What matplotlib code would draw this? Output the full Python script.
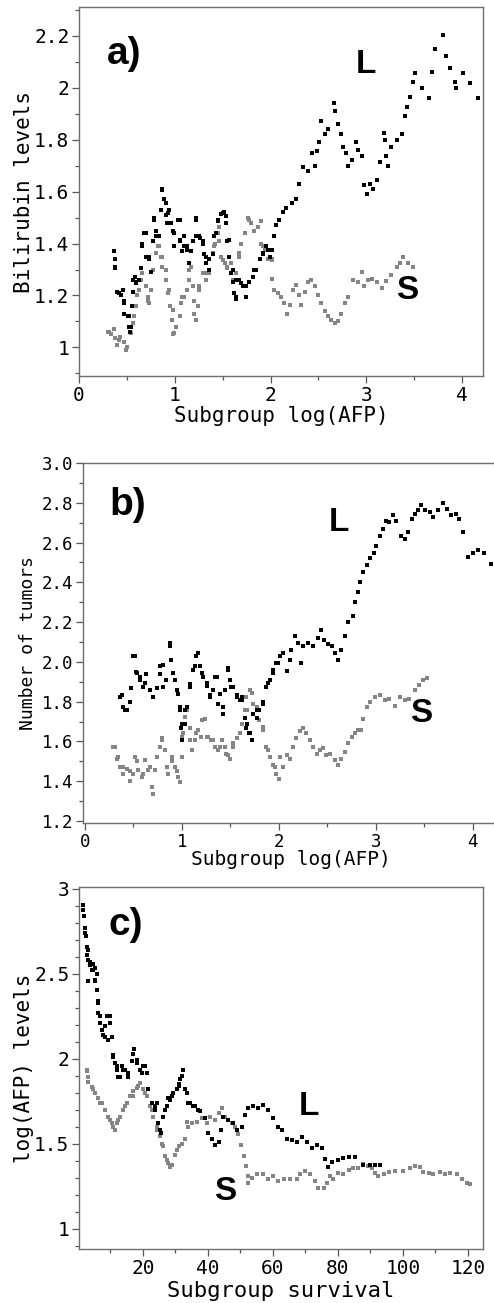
import matplotlib
matplotlib.use("Agg")
import matplotlib.pyplot as plt
from matplotlib.ticker import MultipleLocator, FixedLocator

# ---- panel a: bilirubin vs subgroup log(AFP) ----
a_L_x = [0.37, 0.38, 0.38, 0.40, 0.44, 0.46, 0.47, 0.47, 0.51, 0.52, 0.53, 0.55, 0.56, 0.58, 0.59,
         0.63, 0.65, 0.66, 0.68, 0.70, 0.73, 0.75, 0.77, 0.785, 0.80, 0.84, 0.855, 0.87, 0.89, 0.91,
         0.92, 0.94, 0.98, 0.995, 1.03, 1.05, 1.08, 1.10, 1.13, 1.15, 1.17, 1.19, 1.22, 1.22, 1.26,
         1.29, 1.31, 1.33, 1.36, 1.40, 1.43, 1.45, 1.48, 1.51, 1.535, 1.55, 1.57, 1.59, 1.605, 1.62,
         1.64, 1.675, 1.71, 1.745, 1.78, 1.815, 1.85, 1.885, 1.92, 1.955, 1.99, 2.01, 2.04, 2.06,
         2.09, 2.13, 2.16, 2.22, 2.27, 2.30, 2.34, 2.39, 2.43, 2.46, 2.48, 2.51, 2.53, 2.57, 2.60,
         2.66, 2.67, 2.70, 2.74, 2.76, 2.79, 2.81, 2.85, 2.89, 2.91, 2.95, 2.98, 3.01, 3.04, 3.07,
         3.11, 3.14, 3.18, 3.19, 3.21, 3.23, 3.26, 3.32, 3.37, 3.40, 3.43, 3.46, 3.49, 3.51, 3.58,
         3.65, 3.69, 3.72, 3.80, 3.83, 3.87, 3.93, 3.94, 4.01, 4.08, 4.17,
         0.87, 0.91, 0.925, 0.96, 0.995, 1.05, 1.05, 1.10, 1.13, 1.22, 1.257, 1.29, 1.327, 1.36,
         1.41, 1.45, 1.50, 1.536, 1.57, 1.605, 1.64, 1.64, 1.69, 1.745, 1.745, 1.83, 1.92, 1.97,
         0.70, 0.733, 0.66, 0.785, 0.80, 0.56, 0.59, 0.42, 0.47, 0.52, 0.54, 0.38]
a_L_y = [1.37, 1.34, 1.305, 1.215, 1.20, 1.22, 1.18, 1.13, 1.12, 1.08, 1.06, 1.16, 1.215, 1.27, 1.25,
         1.26, 1.305, 1.39, 1.44, 1.35, 1.34, 1.29, 1.41, 1.50, 1.45, 1.43, 1.53, 1.61, 1.57, 1.51,
         1.48, 1.53, 1.45, 1.39, 1.49, 1.41, 1.37, 1.43, 1.39, 1.325, 1.37, 1.41, 1.43, 1.50, 1.42,
         1.40, 1.36, 1.325, 1.34, 1.36, 1.44, 1.485, 1.515, 1.52, 1.48, 1.41, 1.35, 1.285, 1.25, 1.21,
         1.185, 1.26, 1.235, 1.195, 1.25, 1.27, 1.30, 1.34, 1.36, 1.39, 1.35, 1.375, 1.43, 1.47,
         1.49, 1.52, 1.535, 1.555, 1.57, 1.63, 1.695, 1.68, 1.75, 1.70, 1.755, 1.79, 1.87, 1.82, 1.84,
         1.94, 1.91, 1.86, 1.82, 1.77, 1.75, 1.70, 1.72, 1.79, 1.76, 1.735, 1.625, 1.59, 1.63, 1.61,
         1.645, 1.715, 1.825, 1.80, 1.735, 1.70, 1.77, 1.80, 1.82, 1.89, 1.925, 1.965, 2.02, 2.055, 2.0,
         1.96, 2.06, 2.15, 2.203, 2.12, 2.075, 2.02, 2.0, 2.055, 2.017, 1.96,
         1.607, 1.555, 1.517, 1.48, 1.44, 1.49, 1.414, 1.39, 1.376, 1.49, 1.427, 1.41, 1.35, 1.30,
         1.427, 1.49, 1.517, 1.504, 1.414, 1.30, 1.26, 1.196, 1.248, 1.235, 1.196, 1.30, 1.363, 1.376,
         1.44, 1.35, 1.40, 1.49, 1.427, 1.26, 1.248, 1.21, 1.17, 1.12, 1.08, 1.31]

a_S_x = [0.30, 0.33, 0.37, 0.38, 0.40, 0.43, 0.47, 0.49, 0.50, 0.54, 0.56, 0.575, 0.59, 0.61, 0.63,
         0.645, 0.66, 0.70, 0.715, 0.75, 0.77, 0.80, 0.83, 0.855, 0.87, 0.91, 0.925, 0.95, 0.97,
         0.985, 1.01, 1.05, 1.065, 1.10, 1.13, 1.15, 1.17, 1.19, 1.205, 1.22, 1.24, 1.255, 1.29,
         1.325, 1.36, 1.395, 1.415, 1.45, 1.465, 1.48, 1.52, 1.55, 1.59, 1.605, 1.64, 1.675, 1.69,
         1.73, 1.76, 1.80, 1.83, 1.865, 1.90, 1.90, 1.94, 1.97, 2.01, 2.02, 2.04, 2.08, 2.11, 2.145,
         2.17, 2.20, 2.235, 2.27, 2.30, 2.32, 2.355, 2.39, 2.425, 2.46, 2.495, 2.53, 2.565, 2.60,
         2.635, 2.67, 2.70, 2.74, 2.775, 2.81, 2.86, 2.91, 2.95, 2.98, 3.02, 3.055, 3.11, 3.16,
         3.21, 3.26, 3.32, 3.35, 3.385, 3.44, 3.49,
         0.314, 0.42, 0.49, 0.576, 0.646, 0.716, 0.733, 0.82, 0.87, 0.91, 0.94, 0.98, 0.995, 1.05,
         1.08, 1.15, 1.20, 1.257, 1.327, 1.41, 1.466, 1.50, 1.55, 1.605, 1.675, 1.73, 1.78, 1.867,
         1.92, 2.02]
a_S_y = [1.06, 1.05, 1.07, 1.035, 1.01, 1.04, 1.02, 0.99, 1.00, 1.055, 1.095, 1.12, 1.16, 1.20, 1.22,
         1.26, 1.285, 1.235, 1.18, 1.22, 1.30, 1.365, 1.39, 1.35, 1.31, 1.26, 1.21, 1.16, 1.105,
         1.05, 1.08, 1.12, 1.17, 1.195, 1.22, 1.26, 1.31, 1.235, 1.18, 1.105, 1.16, 1.22, 1.285,
         1.26, 1.285, 1.365, 1.40, 1.44, 1.41, 1.35, 1.325, 1.305, 1.325, 1.26, 1.285, 1.35, 1.40,
         1.44, 1.50, 1.48, 1.45, 1.465, 1.485, 1.40, 1.375, 1.34, 1.34, 1.265, 1.22, 1.21, 1.195, 1.17,
         1.13, 1.165, 1.22, 1.24, 1.20, 1.165, 1.215, 1.25, 1.26, 1.235, 1.20, 1.17, 1.14, 1.12,
         1.105, 1.095, 1.10, 1.13, 1.17, 1.195, 1.26, 1.25, 1.29, 1.235, 1.26, 1.265, 1.25, 1.23,
         1.255, 1.28, 1.31, 1.325, 1.35, 1.325, 1.31,
         1.06, 1.03, 0.99, 1.12, 1.26, 1.196, 1.17, 1.39, 1.35, 1.30, 1.22, 1.145, 1.055, 1.12,
         1.196, 1.30, 1.13, 1.235, 1.286, 1.39, 1.465, 1.337, 1.31, 1.26, 1.363, 1.44, 1.49, 1.465,
         1.39, 1.337]

# ---- panel b: number of tumors vs subgroup log(AFP) ----
b_L_x = [0.38, 0.395, 0.43, 0.46, 0.48, 0.515, 0.53, 0.57, 0.60, 0.635, 0.67, 0.70, 0.74, 0.77, 0.81,
         0.84, 0.875, 0.89, 0.93, 0.96, 0.98, 0.99, 1.005, 1.03, 1.055, 1.08, 1.115, 1.15, 1.185,
         1.22, 1.255, 1.29, 1.32, 1.36, 1.39, 1.42, 1.44, 1.48, 1.495, 1.53, 1.565, 1.60, 1.625,
         1.65, 1.665, 1.695, 1.72, 1.735, 1.77, 1.80, 1.84, 1.87, 1.91, 1.94, 1.975, 2.01, 2.045,
         2.08, 2.11, 2.13, 2.165, 2.20, 2.23, 2.25, 2.30, 2.355, 2.405, 2.44, 2.47, 2.51, 2.545,
         2.58, 2.61, 2.645, 2.68, 2.715, 2.77, 2.79, 2.82, 2.84, 2.87, 2.905, 2.94, 2.98, 3.005,
         3.04, 3.075, 3.11, 3.14, 3.18, 3.21, 3.265, 3.30, 3.33, 3.37, 3.40, 3.44, 3.47, 3.505,
         3.56, 3.59, 3.64, 3.69, 3.73, 3.78, 3.83, 3.86, 3.90, 3.95, 4.00, 4.055, 4.12, 4.19,
         0.36, 0.41, 0.50, 0.533, 0.567, 0.62, 0.67, 0.704, 0.773, 0.807, 0.876, 0.91, 0.945, 0.98,
         0.997, 1.03, 1.08, 1.134, 1.168, 1.203, 1.255, 1.29, 1.34, 1.375, 1.426, 1.477, 1.51,
         1.564, 1.615, 1.667, 1.70, 1.72, 1.77, 1.84, 1.89, 1.94, 1.99, 2.044]
b_L_y = [1.834, 1.775, 1.76, 1.80, 1.87, 2.03, 1.95, 1.925, 1.875, 1.94, 1.86, 1.825, 1.87, 1.94, 1.985,
         1.91, 2.08, 2.01, 1.91, 1.84, 1.775, 1.67, 1.605, 1.69, 1.775, 1.89, 1.96, 2.03, 1.98,
         1.925, 1.88, 1.835, 1.86, 1.925, 1.84, 1.775, 1.86, 1.97, 1.91, 1.875, 1.835, 1.81, 1.825,
         1.72, 1.67, 1.64, 1.605, 1.74, 1.72, 1.76, 1.80, 1.875, 1.91, 1.96, 1.995, 2.03, 2.045,
         1.955, 2.01, 2.06, 2.13, 2.095, 1.995, 2.08, 2.095, 2.08, 2.12, 2.16, 2.11, 2.09, 2.08,
         2.045, 2.01, 2.06, 2.13, 2.20, 2.23, 2.30, 2.35, 2.40, 2.45, 2.485, 2.52, 2.545, 2.585,
         2.635, 2.67, 2.71, 2.705, 2.74, 2.71, 2.635, 2.62, 2.655, 2.72, 2.745, 2.765, 2.79, 2.765,
         2.755, 2.73, 2.765, 2.80, 2.77, 2.74, 2.745, 2.72, 2.655, 2.525, 2.545, 2.56, 2.545, 2.49,
         1.825, 1.757, 2.03, 1.944, 1.91, 1.893, 1.86, 1.825, 1.977, 1.876, 2.096, 1.944, 1.86, 1.757,
         1.69, 1.757, 1.876, 1.977, 2.045, 1.944, 1.893, 1.825, 1.926, 1.79, 1.74, 1.96, 1.876,
         1.825, 1.81, 1.69, 1.64, 1.605, 1.757, 1.79, 1.893, 1.944, 1.994, 2.045]

b_S_x = [0.29, 0.33, 0.36, 0.395, 0.43, 0.46, 0.50, 0.515, 0.55, 0.585, 0.62, 0.65, 0.69, 0.70,
         0.72, 0.74, 0.77, 0.80, 0.825, 0.86, 0.895, 0.93, 0.96, 0.98, 1.00, 1.01, 1.03, 1.055,
         1.08, 1.10, 1.135, 1.17, 1.20, 1.24, 1.27, 1.305, 1.34, 1.375, 1.41, 1.44, 1.48, 1.50,
         1.53, 1.565, 1.60, 1.625, 1.65, 1.665, 1.70, 1.735, 1.77, 1.80, 1.84, 1.87, 1.91, 1.94,
         1.975, 2.00, 2.04, 2.08, 2.11, 2.15, 2.18, 2.215, 2.25, 2.285, 2.32, 2.355, 2.39, 2.42,
         2.455, 2.49, 2.525, 2.58, 2.61, 2.645, 2.68, 2.715, 2.75, 2.785, 2.82, 2.85, 2.87, 2.905,
         2.94, 2.99, 3.04, 3.09, 3.14, 3.20, 3.25, 3.30, 3.34, 3.40, 3.45, 3.49, 3.53,
         0.31, 0.343, 0.395, 0.464, 0.533, 0.60, 0.67, 0.74, 0.79, 0.842, 0.894, 0.945, 0.997, 1.03,
         1.08, 1.15, 1.203, 1.255, 1.32, 1.39, 1.46, 1.53, 1.60, 1.667, 1.72, 1.77, 1.84, 1.89,
         1.96, 2.01]
b_S_y = [1.57, 1.51, 1.47, 1.435, 1.46, 1.40, 1.435, 1.52, 1.455, 1.42, 1.505, 1.455, 1.37, 1.335,
         1.455, 1.52, 1.57, 1.615, 1.555, 1.435, 1.52, 1.47, 1.42, 1.395, 1.52, 1.64, 1.725, 1.76,
         1.67, 1.555, 1.605, 1.655, 1.62, 1.715, 1.62, 1.605, 1.57, 1.555, 1.605, 1.57, 1.53, 1.51,
         1.57, 1.615, 1.64, 1.69, 1.76, 1.825, 1.86, 1.79, 1.76, 1.71, 1.655, 1.57, 1.52, 1.48,
         1.435, 1.41, 1.47, 1.53, 1.51, 1.57, 1.615, 1.65, 1.67, 1.64, 1.605, 1.57, 1.535, 1.555,
         1.565, 1.53, 1.535, 1.505, 1.48, 1.51, 1.545, 1.59, 1.62, 1.64, 1.655, 1.655, 1.715, 1.775,
         1.80, 1.825, 1.835, 1.81, 1.815, 1.78, 1.825, 1.81, 1.815, 1.86, 1.885, 1.91, 1.92,
         1.57, 1.52, 1.47, 1.453, 1.504, 1.437, 1.47, 1.52, 1.605, 1.47, 1.504, 1.453, 1.622, 1.724,
         1.605, 1.64, 1.707, 1.622, 1.605, 1.57, 1.537, 1.59, 1.64, 1.757, 1.842, 1.774, 1.673, 1.555,
         1.47, 1.52]

# ---- panel c: log(AFP) vs subgroup survival ----
c_L_x = [1.7, 1.9, 2.25, 2.55, 2.8, 2.95, 3.3, 3.8, 4.3, 4.8, 5.3, 5.85, 5.3, 3.3, 5.85, 6.3, 6.3,
         6.85, 7.4, 7.9, 8.4, 8.9, 9.4, 9.95, 10.5, 10.95, 11.5, 12.0, 12.5, 13.5, 14.55, 15.6,
         16.6, 17.3, 18.15, 19.2, 20.2, 21.2, 22.8, 23.8, 24.3, 24.8, 25.3, 25.5, 26.3, 27.4, 27.9,
         28.4, 29.4, 30.5, 31.0, 31.5, 32.0, 32.5, 33.0, 33.5, 34.0, 34.6, 35.6, 36.1, 37.1, 37.6,
         39.2, 40.2, 41.2, 42.2, 43.3, 44.0, 44.8, 46.3, 47.9, 49.1, 50.5, 51.5, 52.5, 54.0, 55.6,
         57.1, 58.6, 60.2, 61.7, 62.8, 64.3, 65.8, 67.4, 68.9, 70.5, 72.0, 73.5, 75.1, 76.1, 77.1,
         78.2, 80.2, 81.7, 83.3, 85.3, 87.9, 89.9, 91.5, 93.0,
         1.7, 2.25, 3.3, 3.8, 4.8, 5.3, 5.85, 6.3, 6.85, 7.4, 8.4, 9.95, 10.95, 12.0, 13.0, 14.0,
         15.6, 17.1, 18.15, 19.7, 20.7, 21.7, 23.8, 25.3, 26.9, 28.9, 31.0]
c_L_y = [2.906, 2.84, 2.77, 2.72, 2.66, 2.61, 2.58, 2.55, 2.52, 2.56, 2.535, 2.50, 2.46, 2.455, 2.405,
         2.34, 2.27, 2.21, 2.17, 2.14, 2.19, 2.25, 2.11, 2.25, 2.13, 2.02, 1.975, 1.935, 1.895,
         1.955, 1.935, 1.915, 1.985, 2.06, 1.995, 1.935, 1.955, 1.915, 1.74, 1.70, 1.74, 1.62, 1.58,
         1.56, 1.66, 1.72, 1.77, 1.76, 1.80, 1.82, 1.85, 1.88, 1.90, 1.935, 1.82, 1.80, 1.74, 1.74,
         1.72, 1.72, 1.70, 1.69, 1.65, 1.56, 1.53, 1.49, 1.51, 1.58, 1.66, 1.64, 1.62, 1.58, 1.60,
         1.67, 1.71, 1.72, 1.71, 1.73, 1.70, 1.65, 1.60, 1.58, 1.53, 1.52, 1.51, 1.54, 1.51, 1.475,
         1.49, 1.475, 1.41, 1.36, 1.395, 1.405, 1.415, 1.42, 1.42, 1.375, 1.375, 1.375, 1.375,
         2.876, 2.74, 2.64, 2.57, 2.52, 2.465, 2.405, 2.33, 2.25, 2.17, 2.13, 2.21, 2.01, 1.955,
         1.895, 1.935, 1.895, 2.03, 1.975, 1.915, 1.955, 1.82, 1.72, 1.58, 1.70, 1.78, 1.84]

c_S_x = [2.75, 2.8, 3.3, 4.3, 5.3, 6.3, 7.4, 8.4, 9.4, 10.5, 11.5, 12.0, 13.0, 14.0, 15.1, 16.1,
         17.1, 18.2, 19.2, 20.2, 21.2, 22.2, 23.3, 24.3, 25.3, 26.1, 26.9, 27.9, 28.9, 29.9, 31.0,
         32.0, 33.0, 33.5, 34.0, 35.1, 36.6, 38.2, 39.7, 40.7, 42.2, 43.3, 44.3, 45.3, 46.3, 47.4,
         48.4, 49.4, 50.2, 51.0, 51.8, 52.5, 52.5, 53.5, 55.1, 57.1, 58.6, 60.2, 61.7, 63.3, 65.3,
         67.4, 68.4, 70.0, 71.5, 73.0, 74.0, 75.6, 76.6, 77.6, 78.6, 80.2, 81.7, 83.3, 84.8, 86.3,
         87.9, 89.4, 90.5, 91.5, 92.5, 94.1, 95.6, 97.6, 100.2, 102.2, 103.8, 105.3, 106.3, 107.9,
         109.4, 111.5, 113.0, 114.5, 116.6, 118.2, 119.7, 120.7,
         3.3, 4.8, 6.85, 8.4, 9.95, 10.95, 12.5, 14.55, 17.1, 18.65, 20.7, 22.8, 24.3, 25.8, 27.4,
         28.4, 30.5]
c_S_y = [1.925, 1.935, 1.865, 1.835, 1.80, 1.77, 1.74, 1.70, 1.66, 1.62, 1.58, 1.62, 1.66, 1.70,
         1.74, 1.78, 1.81, 1.83, 1.86, 1.82, 1.78, 1.72, 1.66, 1.60, 1.545, 1.485, 1.425, 1.385,
         1.375, 1.435, 1.485, 1.50, 1.53, 1.63, 1.60, 1.62, 1.63, 1.65, 1.62, 1.66, 1.64, 1.68,
         1.71, 1.66, 1.64, 1.62, 1.60, 1.555, 1.495, 1.425, 1.37, 1.31, 1.27, 1.30, 1.32, 1.32,
         1.29, 1.31, 1.28, 1.29, 1.29, 1.29, 1.32, 1.34, 1.32, 1.28, 1.24, 1.24, 1.27, 1.31, 1.29,
         1.33, 1.32, 1.345, 1.355, 1.355, 1.38, 1.37, 1.355, 1.33, 1.31, 1.32, 1.335, 1.34, 1.34,
         1.355, 1.37, 1.36, 1.335, 1.33, 1.32, 1.335, 1.32, 1.33, 1.32, 1.29, 1.27, 1.26,
         1.895, 1.82, 1.74, 1.70, 1.64, 1.60, 1.64, 1.72, 1.78, 1.84, 1.80, 1.70, 1.58, 1.50, 1.405,
         1.365, 1.465]

a_yticks = [1, 1.2, 1.4, 1.6, 1.8, 2, 2.2]
a_ylabels = ["1", "1.2", "1.4", "1.6", "1.8", "2", "2.2"]
b_yticks = [1.2, 1.4, 1.6, 1.8, 2.0, 2.2, 2.4, 2.6, 2.8, 3.0]
b_ylabels = ["1.2", "1.4", "1.6", "1.8", "2.0", "2.2", "2.4", "2.6", "2.8", "3.0"]
c_yticks = [1, 1.5, 2, 2.5, 3]
c_ylabels = ["1", "1.5", "2", "2.5", "3"]
c_xticks = [20, 40, 60, 80, 100, 120]

mono = "DejaVu Sans Mono"
bold = "Liberation Sans"
black = "#000000"
grey = "#858585"
frame = "#6e6e6e"

fig = plt.figure(figsize=(4.94, 13.03), dpi=100)


def style(ax, tick_size):
    for sp in ax.spines.values():
        sp.set_color(frame)
        sp.set_linewidth(1.0)
    ax.tick_params(which="both", direction="out", colors="#555555", labelcolor="black",
                   labelsize=tick_size, top=False, right=False, width=0.9)
    ax.tick_params(which="major", length=5, pad=2)
    ax.tick_params(which="minor", length=3)
    for lab in ax.get_xticklabels() + ax.get_yticklabels():
        lab.set_fontfamily(mono)


def dots(ax, x, y, color):
    ax.scatter(x, y, s=5.5, marker="s", c=color, linewidths=0)


# panel a
ax1 = fig.add_axes([0.160, 0.7114, 0.818, 0.2832])
dots(ax1, a_S_x, a_S_y, grey)
dots(ax1, a_L_x, a_L_y, black)
ax1.set_xlim(0, 4.22)
ax1.set_ylim(0.89, 2.31)
ax1.xaxis.set_major_locator(MultipleLocator(1))
ax1.xaxis.set_minor_locator(MultipleLocator(0.5))
ax1.set_yticks(a_yticks)
ax1.set_yticklabels(a_ylabels)
ax1.yaxis.set_minor_locator(MultipleLocator(0.1))
style(ax1, 14)
ax1.set_xlabel("Subgroup log(AFP)", fontfamily=mono, fontsize=15)
ax1.set_ylabel("Bilirubin levels", fontfamily=mono, fontsize=15)
ax1.xaxis.set_label_coords(0.5, -0.082)
ax1.yaxis.set_label_coords(-0.112, 0.5)
ax1.text(0.112, 0.873, "a)", transform=ax1.transAxes, fontfamily=bold, fontweight="bold",
         fontsize=28, ha="center", va="center")
ax1.text(3.0, 2.09, "L", fontfamily=bold, fontweight="bold", fontsize=24, ha="center", va="center")
ax1.text(3.43, 1.22, "S", fontfamily=bold, fontweight="bold", fontsize=24, ha="center", va="center")

# panel b
ax2 = fig.add_axes([0.168, 0.3684, 0.840, 0.2763])
dots(ax2, b_S_x, b_S_y, grey)
dots(ax2, b_L_x, b_L_y, black)
ax2.set_xlim(-0.02, 4.26)
ax2.set_ylim(1.19, 3.0)
ax2.xaxis.set_major_locator(MultipleLocator(1))
ax2.xaxis.set_minor_locator(MultipleLocator(0.5))
ax2.set_yticks(b_yticks)
ax2.set_yticklabels(b_ylabels)
ax2.yaxis.set_minor_locator(MultipleLocator(0.1))
style(ax2, 12.5)
ax2.set_xlabel("Subgroup log(AFP)", fontfamily=mono, fontsize=14)
ax2.set_ylabel("Number of tumors", fontfamily=mono, fontsize=13)
ax2.xaxis.set_label_coords(0.5, -0.075)
ax2.yaxis.set_label_coords(-0.112, 0.5)
ax2.text(0.108, 0.883, "b)", transform=ax2.transAxes, fontfamily=bold, fontweight="bold",
         fontsize=28, ha="center", va="center")
ax2.text(2.62, 2.70, "L", fontfamily=bold, fontweight="bold", fontsize=24, ha="center", va="center")
ax2.text(3.47, 1.74, "S", fontfamily=bold, fontweight="bold", fontsize=24, ha="center", va="center")

# panel c
ax3 = fig.add_axes([0.160, 0.0414, 0.818, 0.2778])
dots(ax3, c_S_x, c_S_y, grey)
dots(ax3, c_L_x, c_L_y, black)
ax3.set_xlim(0.4, 124.7)
ax3.set_ylim(0.88, 3.01)
ax3.set_xticks(c_xticks)
ax3.xaxis.set_minor_locator(FixedLocator([10, 30, 50, 70, 90, 110]))
ax3.set_yticks(c_yticks)
ax3.set_yticklabels(c_ylabels)
ax3.yaxis.set_minor_locator(MultipleLocator(0.1))
style(ax3, 14)
ax3.set_xlabel("Subgroup survival", fontfamily=mono, fontsize=16)
ax3.set_ylabel("log(AFP) levels", fontfamily=mono, fontsize=15)
ax3.xaxis.set_label_coords(0.5, -0.088)
ax3.yaxis.set_label_coords(-0.112, 0.5)
ax3.text(0.116, 0.896, "c)", transform=ax3.transAxes, fontfamily=bold, fontweight="bold",
         fontsize=28, ha="center", va="center")
ax3.text(71.2, 1.72, "L", fontfamily=bold, fontweight="bold", fontsize=24, ha="center", va="center")
ax3.text(45.3, 1.22, "S", fontfamily=bold, fontweight="bold", fontsize=24, ha="center", va="center")

fig.savefig("out.png", dpi=100)
